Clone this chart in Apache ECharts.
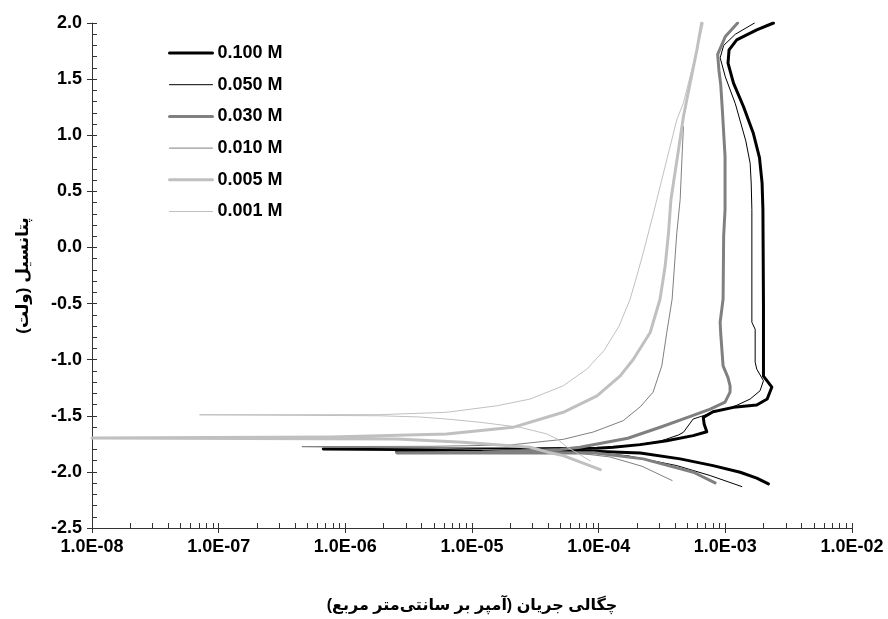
<!DOCTYPE html>
<html>
<head>
<meta charset="utf-8">
<script src="https://cdn.jsdelivr.net/npm/echarts@6/dist/echarts.min.js"></script>
<style>
  html, body { margin: 0; padding: 0; background: #ffffff; }
  #chart { width: 888px; height: 619px; }
</style>
</head>
<body>
<div id="chart"></div>
<script>
// Potentiodynamic polarization curves: current density (A/cm2) vs potential (V)
// Each curve runs from the cathodic end, through the corrosion point, up the anodic branch.

const seriesNames = ['0.100 M', '0.050 M', '0.030 M', '0.010 M', '0.005 M', '0.001 M'];

const i100 = [2.19e-3, 1.77e-3, 1.31e-3, 8.0e-4, 4.4e-4, 2.13e-4, 7.1e-5, 2.1e-5, 2.7e-6, 6.7e-7,
  2.7e-6, 2.1e-5, 9.7e-5, 1.3e-4, 2.13e-4, 3.45e-4, 5.57e-4, 7.14e-4, 6.8e-4, 6.7e-4, 8.0e-4,
  1.16e-3, 1.77e-3, 2.14e-3, 2.33e-3, 2.0e-3, 2.0e-3, 1.98e-3, 1.95e-3, 1.86e-3, 1.66e-3,
  1.39e-3, 1.16e-3, 1.05e-3, 1.07e-3, 1.23e-3, 1.77e-3, 2.4e-3];
const e100 = [-2.107, -2.056, -2.003, -1.944, -1.884, -1.831, -1.811, -1.805, -1.80, -1.795,
  -1.795, -1.795, -1.79, -1.78, -1.757, -1.722, -1.677, -1.642, -1.573, -1.514, -1.464,
  -1.425, -1.404, -1.351, -1.244, -1.147, -0.5, 0.34, 0.575, 0.80, 1.02,
  1.256, 1.464, 1.642, 1.76, 1.849, 1.938, 2.0];

const i050 = [1.35e-3, 7.6e-4, 4.14e-4, 1.67e-4, 7.1e-5, 1.16e-5, 2.48e-6,
  1.16e-5, 7.1e-5, 1.67e-4, 3.0e-4, 4.27e-4, 4.67e-4, 5.57e-4, 7.1e-4, 8.0e-4, 1.16e-3,
  1.57e-3, 1.88e-3, 2.0e-3, 1.77e-3, 1.72e-3, 1.72e-3, 1.62e-3, 1.62e-3, 1.60e-3, 1.57e-3,
  1.45e-3, 1.2e-3, 1.0e-3, 9.1e-4, 9.7e-4, 1.2e-3, 1.7e-3];
const e050 = [-2.131, -2.033, -1.944, -1.855, -1.82, -1.822, -1.822,
  -1.815, -1.80, -1.77, -1.73, -1.671, -1.647, -1.529, -1.49, -1.462, -1.42,
  -1.351, -1.277, -1.188, -1.084, -1.022, -0.729, -0.667, 0.338, 0.575, 0.75,
  0.95, 1.28, 1.52, 1.69, 1.80, 1.90, 2.0];

const i030 = [8.3e-4, 5.6e-4, 2.25e-4, 9.1e-5, 1.2e-5, 2.55e-6,
  1.2e-5, 5.0e-5, 7.1e-5, 1.7e-4, 3.1e-4, 5.3e-4, 7.6e-4, 9.95e-4, 1.09e-3, 1.09e-3,
  1.05e-3, 9.6e-4, 9.2e-4, 9.1e-4, 9.6e-4, 9.7e-4, 9.95e-4, 9.95e-4, 9.5e-4, 9.2e-4,
  8.9e-4, 8.7e-4, 1.0e-3, 1.25e-3];
const e030 = [-2.098, -2.003, -1.884, -1.83, -1.832, -1.831,
  -1.825, -1.80, -1.78, -1.70, -1.60, -1.505, -1.44, -1.378, -1.289, -1.233,
  -1.16, -1.055, -0.77, -0.667, -0.46, 0.1, 0.34, 0.81, 1.2, 1.45,
  1.58, 1.72, 1.88, 2.0];

const i010 = [3.8e-4, 2.2e-4, 1.23e-4, 7.1e-5, 3.0e-5, 5.0e-6, 4.54e-7,
  5.0e-6, 2.0e-5, 5.25e-5, 9.1e-5, 1.56e-4, 2.13e-4, 2.69e-4, 3.15e-4, 3.45e-4, 3.8e-4,
  4.14e-4, 4.4e-4, 4.54e-4, 4.67e-4];
const e010 = [-2.077, -1.95, -1.867, -1.835, -1.81, -1.79, -1.775,
  -1.772, -1.76, -1.71, -1.644, -1.544, -1.42, -1.289, -1.055, -0.758, -0.462,
  0.131, 0.427, 0.782, 1.078];

const i005 = [1.03e-4, 5.25e-5, 3.9e-5, 2.88e-5, 8.5e-6, 2.55e-6, 1.0e-8,
  7.6e-7, 6.3e-6, 2.11e-5, 5.25e-5, 9.7e-5, 1.48e-4, 1.88e-4, 2.55e-4, 3.05e-4, 3.35e-4,
  3.56e-4, 3.72e-4, 4.27e-4, 4.67e-4, 5.27e-4, 5.96e-4, 6.5e-4];
const e005 = [-1.98, -1.855, -1.822, -1.78, -1.736, -1.707, -1.698,
  -1.689, -1.662, -1.603, -1.469, -1.322, -1.144, -0.996, -0.758, -0.462, -0.166,
  0.131, 0.427, 0.871, 1.167, 1.464, 1.76, 2.0];

const i001 = [8.6e-5, 5.64e-5, 4.7e-5, 3.9e-5, 2.4e-5, 1.16e-5, 6.3e-6, 3.9e-6, 1.88e-6, 7.06e-8,
  1.88e-6, 6.3e-6, 1.57e-5, 2.88e-5, 5.25e-5, 8.07e-5, 1.1e-4, 1.45e-4, 1.77e-4, 2.0e-4,
  2.25e-4, 2.63e-4, 2.88e-4, 3.45e-4, 4.14e-4, 4.67e-4, 5.27e-4, 5.96e-4, 6.7e-4];
const e001 = [-1.902, -1.78, -1.707, -1.662, -1.603, -1.558, -1.529, -1.511, -1.50, -1.491,
  -1.49, -1.469, -1.411, -1.351, -1.233, -1.084, -0.92, -0.70, -0.462, -0.255,
  -0.047, 0.249, 0.427, 0.782, 1.138, 1.289, 1.523, 1.76, 2.0];

// Axis ticks
const xTickValues = [1e-8, 1e-7, 1e-6, 1e-5, 1e-4, 1e-3, 1e-2];
const xTickLabels = ['1.0E-08', '1.0E-07', '1.0E-06', '1.0E-05', '1.0E-04', '1.0E-03', '1.0E-02'];
const xMinorMultipliers = [2, 3, 4, 5, 6, 7, 8, 9];
const yMin = -2.5, yMax = 2.0, yStep = 0.5, yMinorStep = 0.1;

const currents = [i100, i050, i030, i010, i005, i001];
const potentials = [e100, e050, e030, e010, e005, e001];
const lineColors = ['#000000', '#000000', '#808080', '#808080', '#c0c0c0', '#c0c0c0'];
const lineWidths = [3, 1, 3, 1, 3, 1];

const FONT = "'Liberation Sans', Arial, 'DejaVu Sans', sans-serif";
const AXIS_COLOR = '#333333';
const LABEL_SIZE = 18;

// tick positions (log10 space) for the inside-facing tick overlay
const xInsideTicks = [];
for (let d = 0; d < xTickValues.length; d++) {
  const e = Math.log10(xTickValues[d]);
  xInsideTicks.push(e);
  if (d < xTickValues.length - 1) {
    xMinorMultipliers.forEach(m => xInsideTicks.push(e + Math.log10(m)));
  }
}

const series = seriesNames.map((name, k) => ({
  name: name,
  type: 'line',
  symbol: 'none',
  showSymbol: false,
  smooth: false,
  clip: true,
  animation: false,
  lineStyle: { color: lineColors[k], width: lineWidths[k], join: 'round', cap: 'round' },
  itemStyle: { color: lineColors[k] },
  data: currents[k].map((c, j) => [c, potentials[k][j]])
}));

const legendItems = seriesNames.map((name, k) => ({
  name: name,
  lineStyle: { color: lineColors[k], width: lineWidths[k] },
  itemStyle: { color: 'rgba(0,0,0,0)', borderColor: 'rgba(0,0,0,0)', borderWidth: 0, opacity: 0 }
}));

const chart = echarts.init(document.getElementById('chart'), null, { renderer: 'canvas' });
chart.setOption({
  animation: false,
  backgroundColor: '#ffffff',
  grid: { left: 92, right: 36, top: 23, bottom: 91 },
  legend: {
    data: legendItems,
    orient: 'vertical',
    left: 168,
    top: 44,
    padding: 0,
    itemWidth: 43,
    itemHeight: 14,
    itemGap: 31.7 - LABEL_SIZE,
    selectedMode: false,
    textStyle: { fontFamily: FONT, fontSize: LABEL_SIZE, fontWeight: 'bold', color: '#000' }
  },
  xAxis: [
    {
      type: 'log',
      logBase: 10,
      min: xTickValues[0],
      max: xTickValues[xTickValues.length - 1],
      interval: 1,
      position: 'bottom',
      name: 'چگالی جریان (آمپر بر سانتی\u200cمتر مربع)',
      nameLocation: 'middle',
      nameGap: 70,
      nameTextStyle: { fontFamily: FONT, fontSize: 16, fontWeight: 'bold', color: '#000' },
      axisLine: { show: true, onZero: false, lineStyle: { color: AXIS_COLOR, width: 1 } },
      axisTick: { show: true, inside: false, length: 5, lineStyle: { color: AXIS_COLOR } },
      axisLabel: {
        margin: 10,
        fontFamily: FONT, fontSize: LABEL_SIZE, fontWeight: 'bold', color: '#000',
        formatter: v => xTickLabels[Math.round(Math.log10(v)) + 8]
      },
      splitLine: { show: false }
    },
    {
      type: 'value',
      min: Math.log10(xTickValues[0]),
      max: Math.log10(xTickValues[xTickValues.length - 1]),
      position: 'bottom',
      axisLine: { show: false, onZero: false },
      axisLabel: { show: false },
      splitLine: { show: false },
      axisTick: { show: true, inside: true, length: 5, customValues: xInsideTicks, lineStyle: { color: AXIS_COLOR } }
    }
  ],
  yAxis: [
    {
      type: 'value',
      min: yMin,
      max: yMax,
      interval: yStep,
      position: 'left',
      name: 'پتانسیل (ولت)',
      nameLocation: 'middle',
      nameGap: 60,
      nameRotate: 90,
      nameTextStyle: { fontFamily: FONT, fontSize: 17, fontWeight: 'bold', color: '#000' },
      axisLine: { show: true, onZero: false, lineStyle: { color: AXIS_COLOR, width: 1 } },
      axisTick: { show: true, inside: false, length: 5, lineStyle: { color: AXIS_COLOR } },
      axisLabel: {
        margin: 10,
        fontFamily: FONT, fontSize: LABEL_SIZE, fontWeight: 'bold', color: '#000',
        formatter: v => v.toFixed(1)
      },
      splitLine: { show: false }
    },
    {
      type: 'value',
      min: yMin,
      max: yMax,
      interval: yMinorStep,
      position: 'left',
      axisLine: { show: false, onZero: false },
      axisLabel: { show: false },
      splitLine: { show: false },
      axisTick: { show: true, inside: true, length: 5, lineStyle: { color: AXIS_COLOR } }
    }
  ],
  series: series
});
</script>
</body>
</html>
